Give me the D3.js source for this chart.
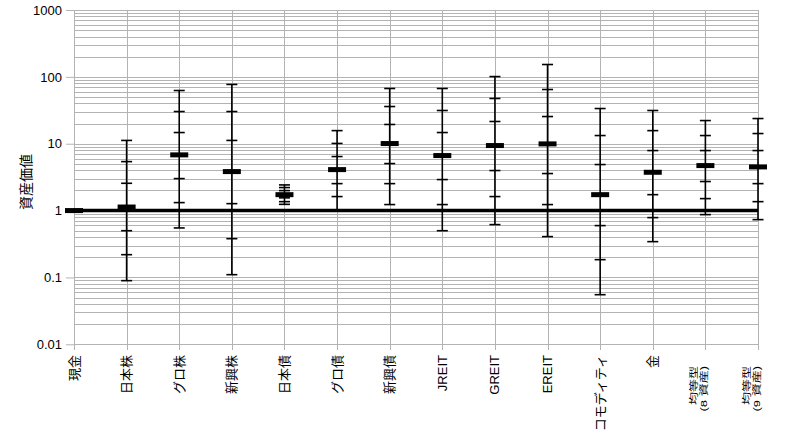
<!DOCTYPE html>
<html><head><meta charset="utf-8">
<script src="https://cdn.jsdelivr.net/npm/d3@7"></script>
<style>
body{margin:0;background:#fff;}
text{font-family:"Liberation Sans","Noto Sans CJK JP",sans-serif;}
</style></head>
<body><svg id="c" width="788" height="443"></svg>
<script>
const categories = ["現金","日本株","グロ株","新興株","日本債","グロ債","新興債","JREIT","GREIT","EREIT","コモディティ","金","均等型\n(8 資産)","均等型\n(9 資産)"];
const seriesMax  = [1, 11.2, 62.5, 77, 2.42, 15.7, 67, 67, 101, 153, 33.6, 31.4, 22.2, 23.8];
const seriesHi2  = [1, 5.4, 30.3, 30.3, 2.21, 10.1, 36, 31.4, 47.5, 64.7, 13.25, 15.7, 13.25, 14.2];
const seriesHi1  = [1, 2.56, 14.7, 11.2, 1.99, 6.43, 19.4, 14.7, 21.5, 25.5, 4.88, 7.9, 7.9, 7.9];
const seriesMed  = [1, 1.13, 6.81, 3.83, 1.73, 4.10, 10.06, 6.65, 9.39, 9.94, 1.73, 3.74, 4.71, 4.50];
const seriesLo1  = [1, 0.50, 3.01, 1.27, 1.55, 2.53, 5.05, 2.91, 3.97, 3.58, 0.596, 1.73, 2.72, 2.53];
const seriesLo2  = [1, 0.219, 1.316, 0.38, 1.36, 1.62, 2.53, 1.23, 1.62, 1.23, 0.1845, 0.785, 1.51, 1.36];
const seriesMin  = [1, 0.0895, 0.55, 0.110, 1.24, 1.0, 1.23, 0.50, 0.617, 0.408, 0.0552, 0.343, 0.87, 0.732];
const yTickLabels = ["0.01","0.1","1","10","100","1000"];
const yTitle = "資産価値";
const baseline = 1;

const svg = d3.select("#c");
const x = d3.scalePoint().domain(categories).range([74, 758]);
const y = d3.scaleLog().domain([0.01, 1000]).range([344.3, 10]);
const grid = "#b3b3b3";

// horizontal gridlines (major+minor)
const gv = [];
for (let e = -2; e < 3; e++) for (let k = 1; k <= 9; k++) gv.push(k * Math.pow(10, e));
gv.push(1000);
svg.append("g").selectAll("line").data(gv).join("line")
  .attr("x1", 74).attr("x2", 758)
  .attr("y1", d => Math.round(y(d)) + 0.5).attr("y2", d => Math.round(y(d)) + 0.5)
  .attr("stroke", grid).attr("stroke-width", 1);

// vertical gridlines
svg.append("g").selectAll("line").data(categories).join("line")
  .attr("x1", d => Math.round(x(d)) + 0.5).attr("x2", d => Math.round(x(d)) + 0.5)
  .attr("y1", 10).attr("y2", 350)
  .attr("stroke", grid).attr("stroke-width", 1);

// y axis
const yAxis = d3.axisLeft(y).tickValues(yTickLabels.map(Number)).tickFormat((d, i) => yTickLabels[i]).tickSize(8).tickPadding(4);
const ga = svg.append("g").attr("transform", "translate(74,0)").call(yAxis);
ga.select(".domain").remove();
ga.selectAll(".tick line").attr("stroke", grid);
ga.selectAll(".tick text").attr("font-size", 13).attr("fill", "#000")
  .attr("font-family", "'Liberation Sans', Arial, sans-serif");

// y title
svg.append("text").attr("transform", "translate(31,182) rotate(-90)")
  .attr("text-anchor", "middle").attr("font-size", 14).attr("fill", "#000").text(yTitle);

// x labels
const xl = svg.append("g");
categories.forEach(c => {
  const lines = c.split("\n");
  const g = xl.append("g");
  if (lines.length === 1) {
    g.append("text").attr("transform", `translate(${x(c) + 4.5},355) rotate(-90)`)
      .attr("text-anchor", "end").attr("font-size", 13).attr("fill", "#000").text(c);
  } else {
    lines.forEach((l, i) => {
      g.append("text").attr("transform", `translate(${x(c) - 8 + i * 9.5},366) rotate(-90) scale(1,0.68)`)
        .attr("text-anchor", "end").attr("font-size", 13).attr("fill", "#000").text(l);
    });
  }
});

// baseline
svg.append("line").attr("x1", 74).attr("x2", 758).attr("y1", y(baseline)).attr("y2", y(baseline))
  .attr("stroke", "#000").attr("stroke-width", 3.5);

// whiskers
const data = categories.map((c, i) => ({c, max: seriesMax[i], hi2: seriesHi2[i], hi1: seriesHi1[i], med: seriesMed[i], lo1: seriesLo1[i], lo2: seriesLo2[i], min: seriesMin[i]}));
const gw = svg.append("g");
data.forEach(d => {
  const cx = x(d.c);
  if (d.max !== d.min) {
    gw.append("line").attr("x1", cx).attr("x2", cx).attr("y1", y(d.max)).attr("y2", y(d.min))
      .attr("stroke", "#000").attr("stroke-width", 1.6);
    [d.max, d.hi2, d.hi1, d.lo1, d.lo2, d.min].forEach(v => {
      gw.append("line").attr("x1", cx - 5.5).attr("x2", cx + 5.5).attr("y1", y(v)).attr("y2", y(v))
        .attr("stroke", "#000").attr("stroke-width", 1.6);
    });
  }
  gw.append("rect").attr("x", cx - 9).attr("width", 18).attr("y", y(d.med) - 2.5).attr("height", 5).attr("fill", "#000");
});
</script></body></html>
